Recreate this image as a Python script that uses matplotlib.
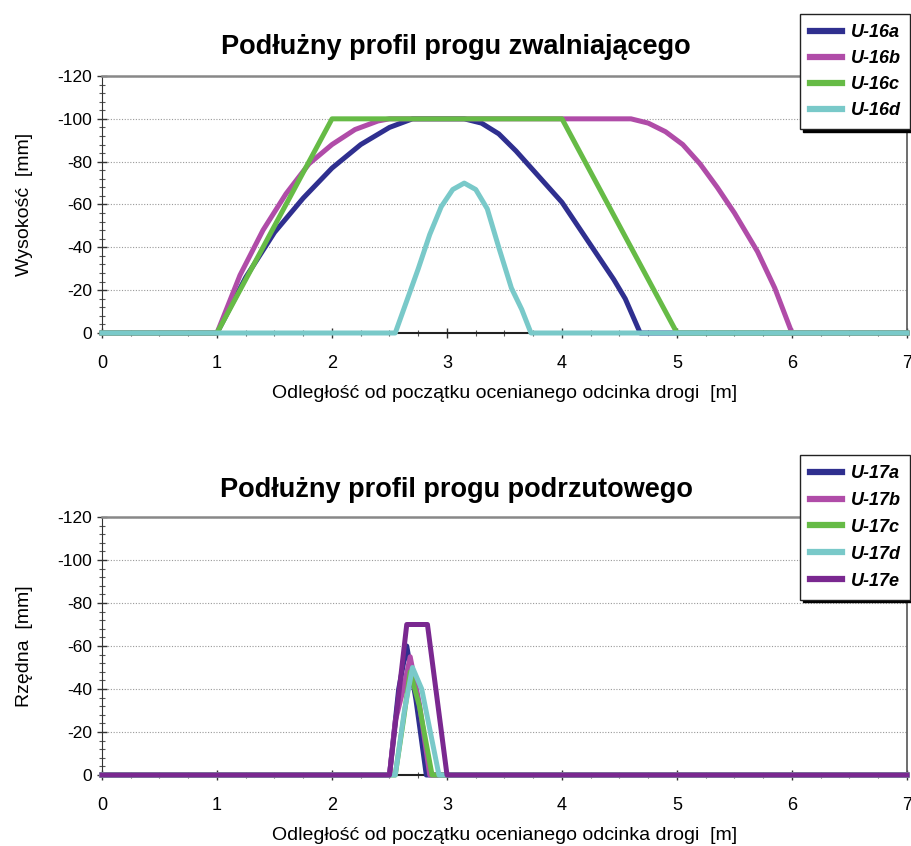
import numpy as np
import matplotlib
matplotlib.use('Agg')
import matplotlib.pyplot as plt
from matplotlib.ticker import MultipleLocator

plt.rcParams['font.family'] = ['Liberation Sans', 'DejaVu Sans']
plt.rcParams['axes.unicode_minus'] = False

# --- top chart: speed bump profiles (x in m, height in mm, negative = up) ---
x_16a = [0, 1.0, 1.25, 1.5, 1.75, 2.0, 2.25, 2.5, 2.7, 3.15, 3.3, 3.45, 3.6, 3.8, 4.0, 4.15, 4.3, 4.45, 4.55, 4.68, 7]
y_16a = [0, 0, -26, -47, -63, -77, -88, -96, -100, -100, -98, -93, -85, -73, -61, -49, -37, -25, -16, 0, 0]
x_16b = [0, 1.0, 1.2, 1.4, 1.6, 1.8, 2.0, 2.2, 2.4, 2.5, 4.6, 4.75, 4.9, 5.05, 5.2, 5.35, 5.5, 5.7, 5.85, 6.0, 7]
y_16b = [0, 0, -27, -48, -65, -79, -88, -95, -99, -100, -100, -98, -94, -88, -79, -68, -56, -38, -21, 0, 0]
x_16c = [0, 1.0, 2.0, 4.0, 5.0, 7]
y_16c = [0, 0, -100, -100, 0, 0]
x_16d = [0, 2.55, 2.65, 2.75, 2.85, 2.95, 3.05, 3.15, 3.25, 3.35, 3.45, 3.56, 3.65, 3.73, 7]
y_16d = [0, 0, -15, -30, -46, -59, -67, -70, -67, -58, -40, -21, -11, 0, 0]

# --- bottom chart: jump bump profiles ---
x_17a = [0, 2.5, 2.58, 2.65, 2.73, 2.82, 7]
y_17a = [0, 0, -40, -60, -35, 0, 0]
x_17b = [0, 2.5, 2.55, 2.62, 2.68, 2.76, 2.85, 7]
y_17b = [0, 0, -25, -40, -55, -33, 0, 0]
x_17c = [0, 2.55, 2.62, 2.68, 2.76, 2.87, 7]
y_17c = [0, 0, -25, -48, -32, 0, 0]
x_17d = [0, 2.55, 2.63, 2.7, 2.78, 2.93, 7]
y_17d = [0, 0, -30, -50, -40, 0, 0]
x_17e = [0, 2.5, 2.65, 2.83, 3.0, 7]
y_17e = [0, 0, -70, -70, 0, 0]

c_navy = '#2f2f8f'
c_mag = '#b04ca8'
c_green = '#66bb46'
c_cyan = '#79c9c9'
c_purple = '#7a2890'

fig = plt.figure(figsize=(9.12, 8.46), dpi=100)
ax1 = fig.add_axes([102 / 912, 1 - 333 / 846, 805 / 912, 257 / 846])
ax2 = fig.add_axes([102 / 912, 1 - 775 / 846, 805 / 912, 258 / 846])

lw = 3.6
for x, y, c, lab in [(x_16a, y_16a, c_navy, 'U-16a'), (x_16b, y_16b, c_mag, 'U-16b'),
                     (x_16c, y_16c, c_green, 'U-16c'), (x_16d, y_16d, c_cyan, 'U-16d')]:
    ax1.plot(x, y, color=c, lw=lw, label=lab, clip_on=False, zorder=3)

for x, y, c, lab in [(x_17a, y_17a, c_navy, 'U-17a'), (x_17b, y_17b, c_mag, 'U-17b'),
                     (x_17c, y_17c, c_green, 'U-17c'), (x_17d, y_17d, c_cyan, 'U-17d'),
                     (x_17e, y_17e, c_purple, 'U-17e')]:
    ax2.plot(x, y, color=c, lw=lw, label=lab, clip_on=False, zorder=3)

titles = ['Podłużny profil progu zwalniającego', 'Podłużny profil progu podrzutowego']
title_y = [47, 490]
ylabels = ['Wysokość  [mm]', 'Rzędna  [mm]']
xlabel = 'Odległość od początku ocenianego odcinka drogi  [m]'
legend_tops = [14, 455]
legend_spacing = [0.5, 0.55]

for ax, title, ty, ylab, ltop, lsp in zip([ax1, ax2], titles, title_y, ylabels, legend_tops, legend_spacing):
    ax.set_xlim(0, 7)
    ax.set_ylim(0, -120)
    ax.set_yticks(np.arange(-120, 1, 20))
    ax.xaxis.set_major_locator(MultipleLocator(1))
    ax.xaxis.set_minor_locator(MultipleLocator(0.25))
    ax.yaxis.set_minor_locator(MultipleLocator(4))
    ax.yaxis.grid(True, linestyle=(0, (1, 1.5)), color='#999999', lw=0.8)
    ax.tick_params(axis='both', which='major', direction='inout', length=7, width=1,
                   color='#333333')
    ax.tick_params(axis='both', which='minor', direction='inout', length=4, width=0.8,
                   color='#555555')
    ax.tick_params(axis='x', pad=12, labelsize=13)
    ax.tick_params(axis='y', labelsize=12.5)
    ax.spines['top'].set_color('#888888')
    ax.spines['top'].set_linewidth(1.8)
    ax.spines['right'].set_color('#555555')
    ax.spines['right'].set_linewidth(1.2)
    ax.spines['left'].set_color('#333333')
    ax.spines['bottom'].set_color('#222222')
    ax.spines['bottom'].set_linewidth(1.5)
    fig.text(0.5, 1 - ty / 846, title, fontsize=19.5, fontweight='bold', ha='center', va='center')
    ax.set_ylabel(ylab, fontsize=14, labelpad=18)
    ax.set_xlabel(xlabel, fontsize=14, labelpad=10)
    leg = ax.legend(loc='upper left', bbox_to_anchor=(800 / 912, 1 - ltop / 846),
                    bbox_transform=fig.transFigure, borderaxespad=0, frameon=True, fancybox=False,
                    shadow={'color': 'black', 'alpha': 1.0}, handlelength=1.8,
                    handletextpad=0.45, labelspacing=lsp, borderpad=0.55,
                    prop={'weight': 'bold', 'style': 'italic', 'size': 13})
    leg.get_frame().set_edgecolor('#222222')
    leg.get_frame().set_linewidth(1.0)
    for h in leg.get_lines():
        h.set_linewidth(4.5)

fig.savefig('out.png', dpi=100)
